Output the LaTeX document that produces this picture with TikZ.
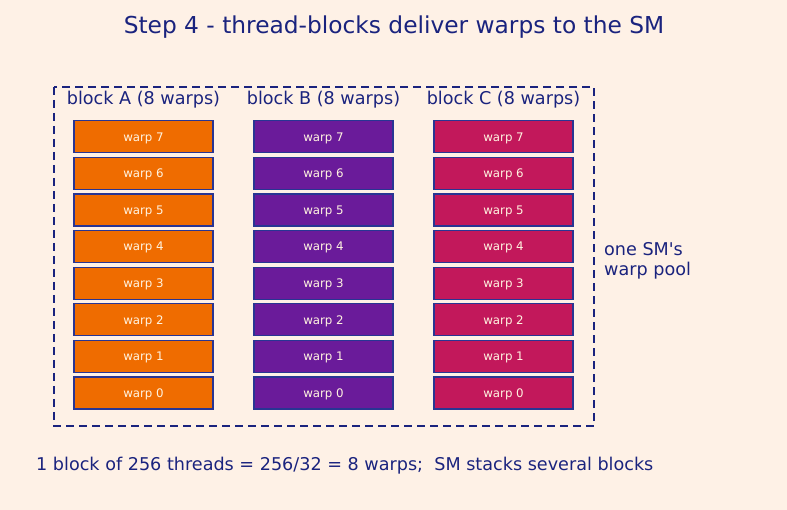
\documentclass[tikz,border=0pt]{standalone}
\usepackage{fontspec}
\setmainfont{DejaVu Sans}[Ligatures=TeXOff]
\usepackage{tikz}
\definecolor{bgcol}{HTML}{FEF1E6}
\definecolor{navy}{HTML}{1A237E}
\definecolor{edgecol}{HTML}{283593}
\definecolor{orangeA}{HTML}{EF6C00}
\definecolor{purpleB}{HTML}{6A1B9A}
\definecolor{pinkC}{HTML}{C2185B}
\definecolor{warptext}{HTML}{FFF3E0}
\tikzset{
  warpbox/.style={draw=edgecol, line width=1.3pt, minimum width=139pt, minimum height=32pt,
    inner sep=0pt, text height=1.6ex, text depth=0pt, text=warptext, font=\fontsize{11.8}{13}\selectfont},
  blocklabel/.style={text=navy, font=\fontsize{17.6}{20.5}\selectfont, inner sep=0pt}
}

\begin{document}
\begin{tikzpicture}[x=1pt,y=-1pt]
\fill [bgcol] (0,0) rectangle (787,510);
\useasboundingbox (0,0) rectangle (787,510);
% title
\node [text=navy, font=\fontsize{23.3}{27}\selectfont, inner sep=0pt] (title) at (394,27) {Step 4 - thread-blocks deliver warps to the SM};
% the SM's pool
\draw [navy, line width=2.2pt, dash pattern=on 8pt off 5pt] (54,87) rectangle (594,426);
\coordinate (pool) at (594,256);
\node [blocklabel, anchor=west, align=left] (poollabel) at (604,261) {one SM's\\warp pool};
% blocks
\foreach \name/\col/\x in {A/orangeA/143.5, B/purpleB/323.5, C/pinkC/503.5} {
  \node [blocklabel] (lbl\name) at (\x,100) {block \name\ (8 warps)};
  \foreach \k in {0,...,7}
    \node [warpbox, fill=\col] (w\name\k) at (\x,393-36.6*\k) {warp \k};
}
% note
\node [text=navy, font=\fontsize{17.6}{20.5}\selectfont, inner sep=0pt, anchor=west] (note) at (36,466) {1 block of 256 threads = 256/32 = 8 warps;\ \ SM stacks several blocks};
\end{tikzpicture}
\end{document}
